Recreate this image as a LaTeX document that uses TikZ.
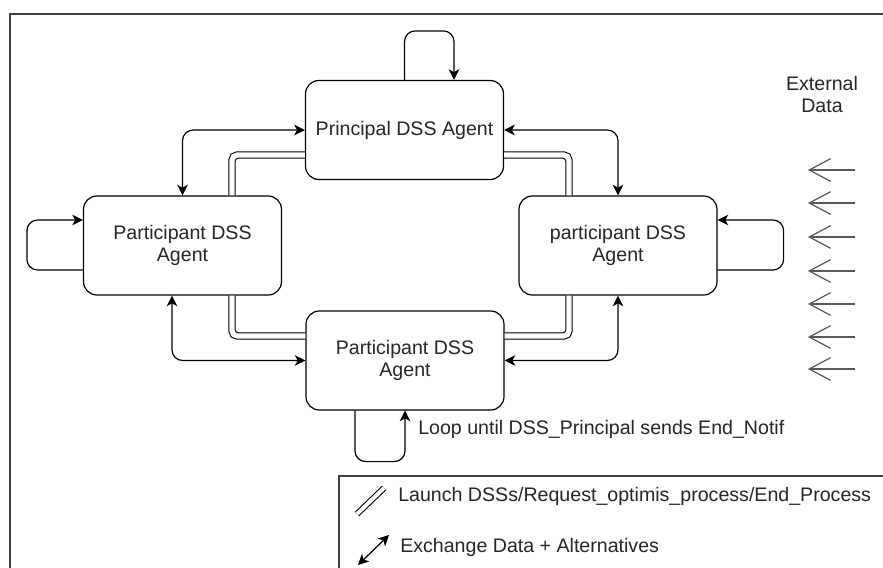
\documentclass[tikz,border=0pt]{standalone}
\usepackage{fontspec}
\setmainfont{Liberation Sans}
\usetikzlibrary{arrows.meta}

\begin{document}
\begin{tikzpicture}[x=0.75pt,y=0.75pt,yscale=-1,xscale=1,
    agent/.style={draw, rounded corners=10pt, line width=0.9pt, minimum width=148.5pt, minimum height=74.25pt, align=center, inner sep=0pt, font=\fontsize{14.7}{16.9}\selectfont, text=black!85},
    note/.style={inner sep=0pt, align=center, font=\fontsize{14.7}{16.9}\selectfont, text=black!85},
    frame/.style={line width=1.5pt, black!75},
    flow/.style={line width=0.9pt, rounded corners=8pt},
    dbl/.style={double, double distance=4pt, line width=0.8pt, rounded corners=4pt},
    extarrow/.style={line width=0.9pt, black!65, -{Straight Barb[length=16pt,width=17pt,line width=0.9pt]}},
    >={Stealth[length=8pt,width=8pt,inset=2.2pt]}]
    %set diagram size to 883 x 568
    \useasboundingbox (0,0) rectangle (883,568);
    \clip (0,0) rectangle (883,568);

    %Shape: Frame
    \draw [frame] (10,14) rectangle (900,600);
    %Shape: Legend frame
    \draw [frame] (339,600) |- (900,476);

    % Agent Nodes
    \node [agent] (principal) at (404.5,130) {Principal DSS Agent};
    \node [agent] (left) at (182.5,245.5) {Participant DSS\\Agent};
    \node [agent] (right) at (618,245.5) {participant DSS\\Agent};
    \node [agent] (bottom) at (405,360.5) {Participant DSS\\Agent};

    %Loops
    \draw [flow,->] (principal.north) -- ++(0,-49) -| (principal.north -| 454,0);
    \draw [flow,->] (left.west |- 0,270) -- ++(-56,0) |- (left.west |- 0,220);
    \draw [flow,->] (right.east |- 0,270) -- ++(66,0) |- (right.east |- 0,220);
    \draw [flow,->] (bottom.south -| 355,0) -- ++(0,51) -| (bottom.south -| 405,0);

    %Exchange connectors
    \draw [flow,<->] (principal.west) -| (left.north);
    \draw [flow,<->] (principal.east) -| (right.north);
    \draw [flow,<->] (left.south -| 172,0) |- (bottom.west);
    \draw [flow,<->] (right.south) |- (bottom.east);

    %Launch connectors
    \draw [dbl] (principal.west |- 0,155) -| (left.north -| 232,0);
    \draw [dbl] (left.south -| 232,0) |- (bottom.west |- 0,336);
    \draw [dbl] (principal.east |- 0,155) -| (right.north -| 569,0);
    \draw [dbl] (right.south -| 569,0) |- (bottom.east |- 0,336);

    %External data
    \node [note] (external) at (822,94.5) {External\\Data};
    \foreach \y in {170,203,237,271,304,337,369} {
        \draw [extarrow] (855,\y) -- (808,\y);
    }

    % Text Node
    \node [note, anchor=west] (loopnote) at (418,429) {Loop until DSS\_Principal sends End\_Notif};

    %Legend
    \draw [dbl, double distance=3pt] (357,514) -- (384,488);
    \node [note, anchor=west] (launchnote) at (398,496) {Launch DSSs/Request\_optimis\_process/End\_Process};
    \draw [flow,<->] (358,565) -- (389,535);
    \node [note, anchor=west] (exchangenote) at (400,547) {Exchange Data + Alternatives};
\end{tikzpicture}
\end{document}
